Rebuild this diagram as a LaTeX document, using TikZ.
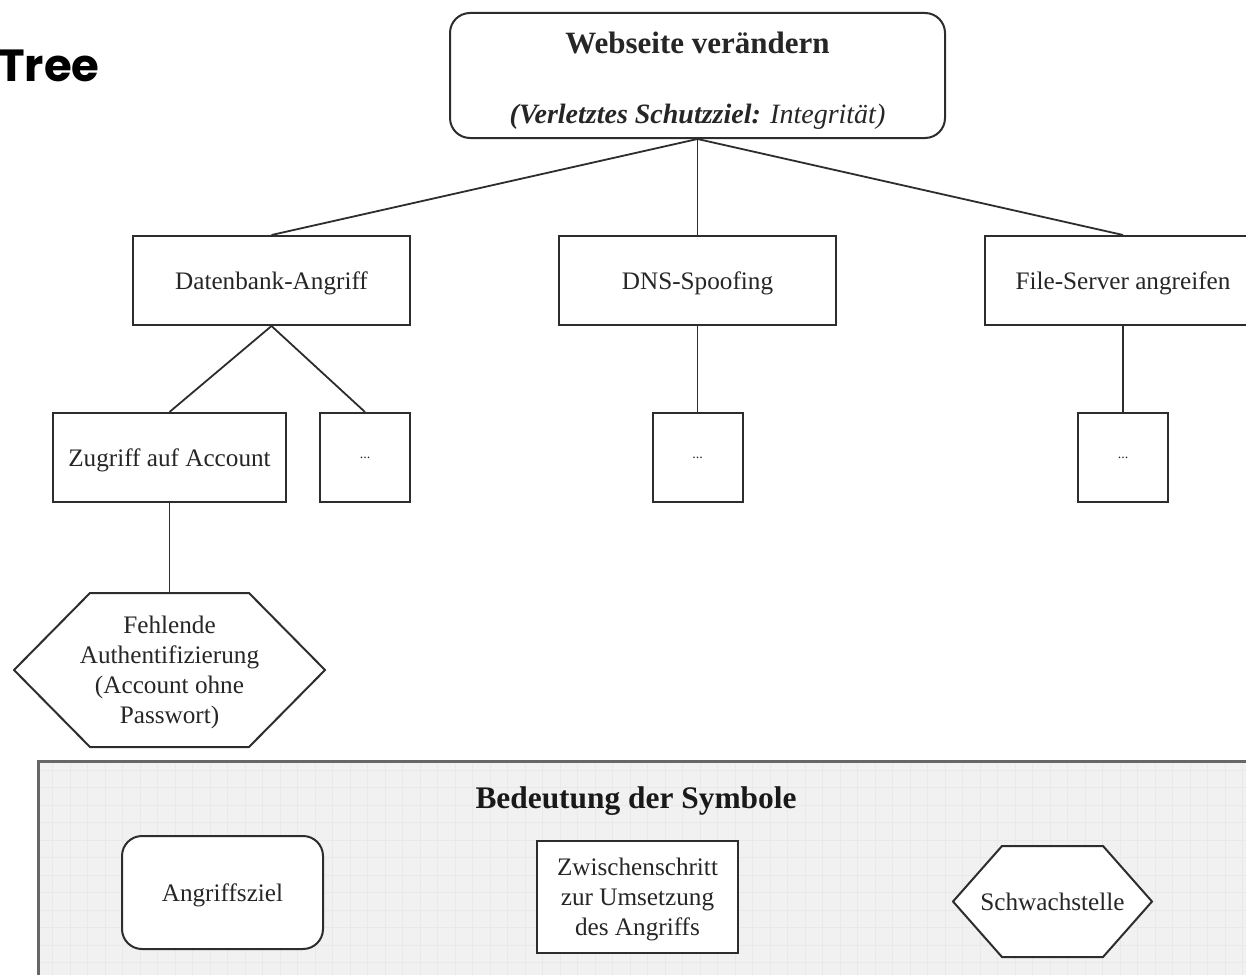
\documentclass[tikz,border=0pt]{standalone}
\usepackage{fontspec}
\setmainfont{Liberation Serif}
\newfontfamily\headfont{Poppins}
\usepackage{tikz}
\usetikzlibrary{positioning}
\definecolor{linegray}{RGB}{45,45,45}
\definecolor{legendbg}{RGB}{241,241,241}
\definecolor{gridgray}{RGB}{233,233,233}
\tikzset{hexinset/.store in=\hexinset,hexinset=25pt}
\tikzstyle{goal}=[rectangle,rounded corners=10pt,draw=linegray,line width=1pt,fill=white,text depth=0pt,
                  align=center,text=black!85,font=\fontsize{12.6}{15}\selectfont]
\tikzstyle{substep}=[rectangle,draw=linegray,line width=1pt,fill=white,minimum height=44.5pt,text depth=0pt,
                  align=center,text=black!85,font=\fontsize{12.6}{15}\selectfont]
\tikzstyle{weakness}=[rectangle,inner sep=0pt,text depth=0pt,align=center,text=black!85,font=\fontsize{12.6}{15}\selectfont,
                  path picture={
                    \fill[white,draw=linegray,line width=1pt]
                      ([xshift=0.5pt]path picture bounding box.west)
                      -- ([xshift=\hexinset,yshift=-0.5pt]path picture bounding box.north west)
                      -- ([xshift=-\hexinset,yshift=-0.5pt]path picture bounding box.north east)
                      -- ([xshift=-0.5pt]path picture bounding box.east)
                      -- ([xshift=-\hexinset,yshift=0.5pt]path picture bounding box.south east)
                      -- ([xshift=\hexinset,yshift=0.5pt]path picture bounding box.south west)
                      -- cycle;}]
\tikzstyle{link}=[line width=0.9pt,draw=linegray]

\begin{document}
\begin{tikzpicture}[x=0.5pt,y=-0.5pt]
  \clip (0,0) rectangle (1246,974);
  \fill[white] (0,0) rectangle (1246,974);

  \node[font=\headfont\bfseries\fontsize{22.5}{27}\selectfont,anchor=base west,inner sep=0pt] (treelabel) at (-2,82) {Tree};

  % Angriffsbaum
  \node[goal,minimum width=247.5pt,minimum height=62.5pt] (ziel) at (697.5,75.5)
    {\rule{0pt}{13pt}\fontsize{15.5}{18}\selectfont\bfseries Webseite verändern\\[20pt]
     \fontsize{14}{17}\selectfont\textit{\textbf{(Verletztes Schutzziel:} Integrität)}};

  \node[substep,minimum width=138.5pt] (dbank) at (271.5,280.5) {Datenbank-Angriff};
  \node[substep,minimum width=138.5pt] (dns)   at (697.5,280.5) {DNS-Spoofing};
  \node[substep,minimum width=138.5pt] (files) at (1123,280.5)  {File-Server angreifen};

  \node[substep,minimum width=116.5pt] (account) at (169.5,457.5) {Zugriff auf Account};
  \node[substep,minimum width=45pt,font=\scriptsize] (dbdots)  at (365,457.5)  {...};
  \node[substep,minimum width=45pt,font=\scriptsize,below=43pt of dns]   (dnsdots)  {...};
  \node[substep,minimum width=45pt,font=\scriptsize,below=43pt of files] (filedots) {...};

  \node[weakness,hexinset=38.5pt,minimum width=156.5pt,minimum height=78pt] (noauth) at (169.5,670)
    {Fehlende\\Authentifizierung\\(Account ohne\\Passwort)};

  \draw[link] (ziel.south)--(dbank.north);
  \draw[link] (ziel.south)--(dns.north);
  \draw[link] (ziel.south)--(files.north);
  \draw[link] (dbank.south)--(account.north);
  \draw[link] (dbank.south)--(dbdots.north);
  \draw[link] (dns.south)--(dnsdots.north);
  \draw[link] (files.south)--(filedots.north);
  \draw[link] (account.south)--(noauth.north);

  % Legende
  \node[rectangle,draw=black!60,line width=1pt,fill=legendbg,anchor=north west,
        minimum width=620pt,minimum height=120pt] (legend) at (38,761) {};
  \begin{scope}
    \clip (legend.north west) rectangle (legend.south east);
    \draw[gridgray,line width=0.4pt,xstep=8.75pt,ystep=8.75pt] (40,763) grid (1260,990);
  \end{scope}
  \draw[black!60,line width=1pt] (legend.north west) rectangle (legend.south east);

  \node[font=\fontsize{15.7}{18}\selectfont\bfseries,text=black!90] (legendtitle) at (636,801) {Bedeutung der Symbole};
  \node[goal,minimum width=100.5pt,minimum height=56.5pt] (symgoal) at (222.5,892.5) {Angriffsziel};
  \node[substep,minimum width=100.5pt,minimum height=56pt] (symstep) at (637.5,897)
    {Zwischenschritt\\zur Umsetzung\\des Angriffs};
  \node[weakness,hexinset=25pt,minimum width=100.5pt,minimum height=56.5pt] (symweak) at (1052.5,901.5)
    {Schwachstelle};
\end{tikzpicture}
\end{document}
